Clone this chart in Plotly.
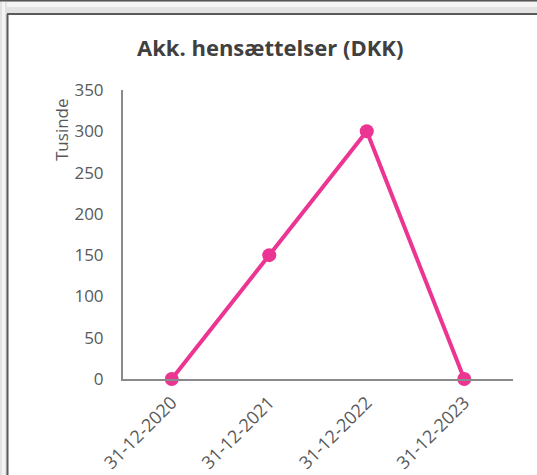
import plotly.graph_objects as go

categories = ["31-12-2020", "31-12-2021", "31-12-2022", "31-12-2023"]
values = [0, 150, 300, 0]
y_ticks = [0, 50, 100, 150, 200, 250, 300, 350]

W, H = 537, 475
L, R, T, B = 123, 24, 90, 96
pw, ph = W - L - R, H - T - B

def px(x):
    return (x - L) / pw

def py(y):
    return (H - B - y) / ph

pink = "#EC3592"
grey_txt = "#595959"
font_family = "Open Sans, Noto Sans, sans-serif"

fig = go.Figure()
fig.add_trace(go.Scatter(
    x=list(range(len(categories))), y=values, mode="lines+markers",
    line=dict(color=pink, width=4),
    marker=dict(color=pink, size=14),
    showlegend=False, hoverinfo="skip", cliponaxis=False,
))

shapes = []
# decorative frame: top bar
shapes.append(dict(type="rect", xref="paper", yref="paper",
                   x0=px(0), x1=px(W), y0=py(14), y1=py(0),
                   fillcolor="#e2e2e2", line=dict(width=0), layer="below"))
shapes.append(dict(type="rect", xref="paper", yref="paper",
                   x0=px(0), x1=px(W), y0=py(7), y1=py(2),
                   fillcolor="#f4f4f4", line=dict(width=0), layer="below"))
shapes.append(dict(type="line", xref="paper", yref="paper",
                   x0=px(0), x1=px(W), y0=py(0.75), y1=py(0.75),
                   line=dict(color="#555555", width=1.5)))
shapes.append(dict(type="line", xref="paper", yref="paper",
                   x0=px(7), x1=px(W), y0=py(14), y1=py(14),
                   line=dict(color="#5a5a5a", width=2)))
# left bar
shapes.append(dict(type="rect", xref="paper", yref="paper",
                   x0=px(0), x1=px(7), y0=py(H), y1=py(0),
                   fillcolor="#e2e2e2", line=dict(width=0), layer="below"))
shapes.append(dict(type="rect", xref="paper", yref="paper",
                   x0=px(2), x1=px(5), y0=py(H), y1=py(0),
                   fillcolor="#f4f4f4", line=dict(width=0), layer="below"))
shapes.append(dict(type="line", xref="paper", yref="paper",
                   x0=px(7.5), x1=px(7.5), y0=py(H), y1=py(14),
                   line=dict(color="#5a5a5a", width=2)))

fig.update_layout(
    width=W, height=H, autosize=False,
    margin=dict(l=L, r=R, t=T, b=B),
    paper_bgcolor="white", plot_bgcolor="white",
    shapes=shapes,
    xaxis=dict(
        range=[-0.5, 3.5], tickmode="array",
        tickvals=list(range(len(categories))), ticktext=categories,
        tickangle=-45, showgrid=False, zeroline=False, automargin=False,
        showline=True, linecolor="#8a8a8a", linewidth=2,
        ticks="", ticklabelstandoff=4,
        tickfont=dict(family=font_family, size=18, color=grey_txt),
        fixedrange=True,
    ),
    yaxis=dict(
        range=[0, 350], tickmode="array", tickvals=y_ticks,
        showgrid=False, zeroline=False, automargin=False,
        showline=True, linecolor="#8a8a8a", linewidth=2,
        ticks="", ticklabelstandoff=14,
        tickfont=dict(family=font_family, size=17, color=grey_txt),
        fixedrange=True,
    ),
    annotations=[
        dict(text="<b>Akk. hensættelser (DKK)</b>", xref="paper", yref="paper",
             x=px(270), y=py(47), xanchor="center", yanchor="middle",
             showarrow=False, font=dict(family=font_family, size=22, color="#404040")),
        dict(text="Tusinde", xref="paper", yref="paper",
             x=px(61), y=py(130), xanchor="center", yanchor="middle", textangle=-90,
             showarrow=False, font=dict(family=font_family, size=17, color=grey_txt)),
    ],
)

fig.write_html(
    "out.html",
    config={"responsive": False, "displayModeBar": False, "staticPlot": True},
    post_script="document.body.style.margin='0';document.body.style.overflow='hidden';",
)
